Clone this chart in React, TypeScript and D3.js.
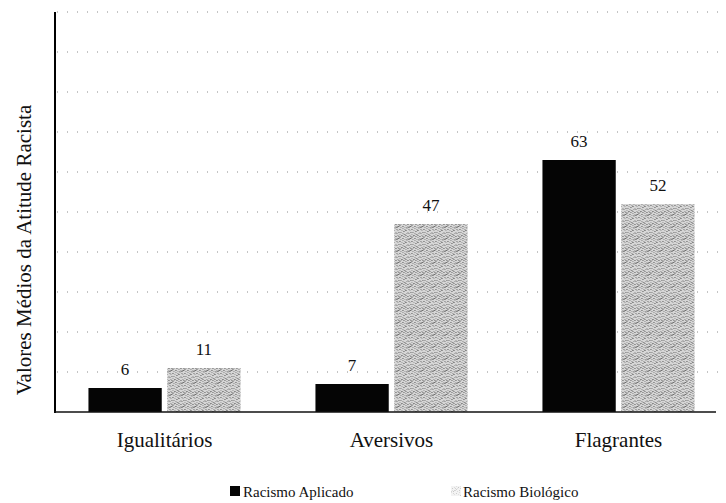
import * as d3 from 'd3';

const categories = ['Igualitários', 'Aversivos', 'Flagrantes'];
const seriesNames = ['Racismo Aplicado', 'Racismo Biológico'];
const aplicado = [6, 7, 63];
const biologico = [11, 47, 52];
const gridValues = [10, 20, 30, 40, 50, 60, 70, 80, 90, 100];

const W = 726;
const H = 503;
const FONT = 'Liberation Serif, DejaVu Serif, serif';

// speckle texture for the grey series
const speckle = [
  [0, 1, '#555'], [3, 0, '#888'], [6, 2, '#444'], [9, 1, '#777'], [11, 4, '#666'],
  [1, 4, '#777'], [4, 3, '#555'], [7, 5, '#888'], [2, 7, '#444'], [5, 6, '#777'],
  [8, 8, '#555'], [10, 7, '#888'], [0, 9, '#666'], [3, 10, '#555'], [6, 9, '#888'],
  [9, 11, '#444'], [11, 10, '#777'], [1, 11, '#888'], [4, 8, '#666'], [7, 11, '#777'],
  [10, 2, '#999'], [2, 2, '#999'], [5, 11, '#999'], [8, 4, '#999'], [11, 8, '#666'],
  [0, 6, '#999'], [6, 7, '#666'], [3, 5, '#888'], [9, 5, '#777'], [5, 1, '#888'],
  [1, 8, '#999'], [10, 10, '#666'], [7, 0, '#999'], [4, 6, '#aaa'], [8, 10, '#999'],
];

export default function App() {
  const y = d3.scaleLinear().domain([0, 100]).range([412, 12]);
  const x0 = d3.scaleBand().domain(categories).range([51, 732]).paddingInner(0.33).paddingOuter(0.165);
  const x1 = d3.scaleBand().domain(seriesNames).range([0, x0.bandwidth()]).paddingInner(0.07);
  const values = [aplicado, biologico];
  const fills = ['#050505', 'url(#speckle)'];

  return (
    <svg width={W} height={H} style={{ position: 'absolute', left: 0, top: 0, background: '#fff' }}>
      <defs>
        <pattern id="speckle" width={12} height={12} patternUnits="userSpaceOnUse">
          <rect width={12} height={12} fill="#d6d6d6" />
          {speckle.map(([px, py, c], i) => (
            <rect key={i} x={px as number} y={py as number} width={1} height={1} fill={c as string} />
          ))}
        </pattern>
      </defs>

      {/* dotted gridlines */}
      {gridValues.map(v => (
        <line key={v} x1={57} x2={726} y1={y(v)} y2={y(v)} stroke="#8a8a8a" strokeWidth={1} strokeDasharray="1 9" />
      ))}

      {/* bars */}
      {categories.map((c, ci) => (
        <g key={c} transform={`translate(${x0(c)},0)`}>
          {seriesNames.map((s, si) => {
            const v = values[si][ci];
            return (
              <g key={s}>
                <rect x={x1(s)} y={y(v)} width={x1.bandwidth()} height={y(0) - y(v)} fill={fills[si]} />
                <text x={(x1(s) as number) + x1.bandwidth() / 2} y={y(v) - 13} textAnchor="middle"
                  fontFamily={FONT} fontSize={17} fill="#111">{v}</text>
              </g>
            );
          })}
        </g>
      ))}

      {/* axes */}
      <line x1={55} x2={55} y1={12} y2={413} stroke="#000" strokeWidth={2} />
      <line x1={54} x2={716} y1={412} y2={412} stroke="#111" strokeWidth={1.5} />

      {categories.map(c => (
        <text key={c} x={(x0(c) as number) + x0.bandwidth() / 2} y={447} textAnchor="middle"
          fontFamily={FONT} fontSize={21} fill="#111">{c}</text>
      ))}

      <text transform="translate(31,250) rotate(-90)" textAnchor="middle" fontFamily={FONT} fontSize={21} fill="#111">
        Valores Médios da Atitude Racista
      </text>

      {/* legend */}
      <rect x={230} y={486} width={10} height={10} fill="#050505" />
      <text x={243} y={497} fontFamily={FONT} fontSize={15} fill="#111">{seriesNames[0]}</text>
      <rect x={451} y={486} width={10} height={10} fill="url(#speckle)" opacity={0.3} />
      <text x={463} y={497} fontFamily={FONT} fontSize={15} fill="#111">{seriesNames[1]}</text>
    </svg>
  );
}
